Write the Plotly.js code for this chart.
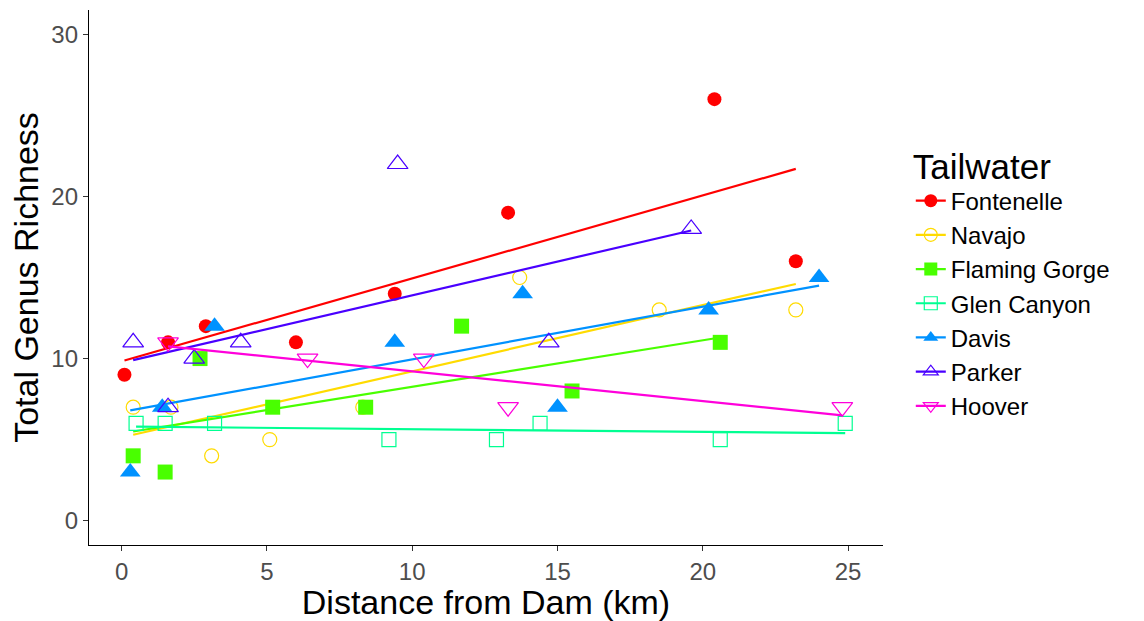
<!DOCTYPE html>
<html><head><meta charset="utf-8">
<script src="https://cdn.plot.ly/plotly-3.0.1.min.js"></script>
<style>html,body{margin:0;padding:0;background:#fff}#chart{width:1144px;height:621px}</style>
</head><body><div id="chart"></div>
<script>
// Categories
const tailwaters = ["Fontenelle", "Navajo", "Flaming Gorge", "Glen Canyon", "Davis", "Parker", "Hoover"];

// Series values (distance km, genus richness)
const fontenelleX = [0.1, 1.6, 2.9, 6.0, 9.4, 13.3, 20.4, 23.2];
const fontenelleY = [9, 11, 12, 11, 14, 19, 26, 16];
const navajoX = [0.4, 1.7, 3.1, 5.1, 8.3, 13.7, 18.5, 23.2];
const navajoY = [7, 7, 4, 5, 7, 15, 13, 13];
const flamingX = [0.4, 1.5, 2.7, 5.2, 8.4, 11.7, 15.5, 20.6];
const flamingY = [4, 3, 10, 7, 7, 12, 8, 11];
const glenX = [0.5, 1.5, 3.2, 9.2, 12.9, 14.4, 20.6, 24.9];
const glenY = [6, 6, 6, 5, 5, 6, 5, 6];
const davisX = [0.3, 1.4, 3.2, 9.4, 13.8, 15.0, 20.2, 24.0];
const davisY = [3, 7, 12, 11, 14, 7, 13, 15];
const parkerX = [0.4, 1.6, 2.5, 4.1, 9.5, 14.7, 19.6];
const parkerY = [11, 7, 10, 11, 22, 11, 18];
const hooverX = [1.6, 6.4, 10.4, 13.3, 24.8];
const hooverY = [11, 10, 10, 7, 7];

// Fitted trend values at each series' first and last distance
const fitStartY = [9.88, 5.3, 5.5, 5.8, 6.8, 9.9, 10.75];
const fitEndY = [21.7, 14.6, 11.3, 5.4, 14.5, 17.9, 6.5];

// Axis ticks
const xTicks = [0, 5, 10, 15, 20, 25];
const yTicks = [0, 10, 20, 30];

const seriesX = [fontenelleX, navajoX, flamingX, glenX, davisX, parkerX, hooverX];
const seriesY = [fontenelleY, navajoY, flamingY, glenY, davisY, parkerY, hooverY];

const colors = ["#FF0000", "#FFDB00", "#49FF00", "#00FF92", "#0092FF", "#4900FF", "#FF00DB"];
const symbols = ["circle", "circle-open", "square", "square-open", "triangle-up", "triangle-up-open", "triangle-down-open"];
const sizes = [14, 14, 15, 14, 18, 18, 18];

const FONT = "Liberation Sans, Arial, sans-serif";
const traces = [];
tailwaters.forEach((name, i) => {
  const open = symbols[i].indexOf("open") >= 0;
  const mk = {color: colors[i], symbol: symbols[i], size: sizes[i], line: {color: colors[i], width: open ? 1.2 : 0}};
  traces.push({x: seriesX[i], y: seriesY[i], type: "scatter", mode: "markers", marker: mk,
               name: name, legendgroup: name, showlegend: false, hoverinfo: "x+y+name"});
  const xs = seriesX[i];
  const x0 = Math.min(...xs), x1 = Math.max(...xs);
  traces.push({x: [x0, x1], y: [fitStartY[i], fitEndY[i]], type: "scatter", mode: "lines",
               line: {color: colors[i], width: 2.2}, name: name, legendgroup: name, showlegend: false, hoverinfo: "skip"});
  traces.push({x: [null], y: [null], type: "scatter", mode: "lines+markers",
               line: {color: colors[i], width: 2.2}, marker: Object.assign({}, mk, {size: Math.min(sizes[i], 13)}),
               name: name, legendgroup: name, showlegend: true});
});

const layout = {
  width: 1144, height: 621,
  paper_bgcolor: "#fff", plot_bgcolor: "#fff",
  margin: {l: 89, r: 261, t: 10, b: 76},
  font: {family: FONT, color: "#000"},
  xaxis: {
    range: [-1.12, 26.2], tickvals: xTicks, ticktext: xTicks.map(String),
    showgrid: false, zeroline: false, showline: true, linecolor: "#000", linewidth: 1.2,
    ticks: "outside", ticklen: 5, tickcolor: "#333", tickwidth: 1,
    tickfont: {size: 24, color: "#4D4D4D", family: FONT},
    title: {text: "Distance from Dam (km)", font: {size: 34, color: "#000", family: FONT}, standoff: 6},
    automargin: false
  },
  yaxis: {
    range: [-1.5, 31.5], tickvals: yTicks, ticktext: yTicks.map(String),
    showgrid: false, zeroline: false, showline: true, linecolor: "#000", linewidth: 1.2,
    ticks: "outside", ticklen: 5, tickcolor: "#333", tickwidth: 1,
    tickfont: {size: 24, color: "#4D4D4D", family: FONT},
    title: {text: "Total Genus Richness", font: {size: 34, color: "#000", family: FONT}, standoff: 2},
    automargin: false
  },
  legend: {
    x: 1.035, y: 0.77, xanchor: "left", yanchor: "top",
    title: {text: "Tailwater", font: {size: 35, color: "#000", family: FONT}},
    font: {size: 24, color: "#000", family: FONT},
    bgcolor: "rgba(0,0,0,0)", tracegroupgap: 0, itemwidth: 30
  },
  showlegend: true
};

Plotly.newPlot("chart", traces, layout, {displayModeBar: false, staticPlot: true});
</script></body></html>
